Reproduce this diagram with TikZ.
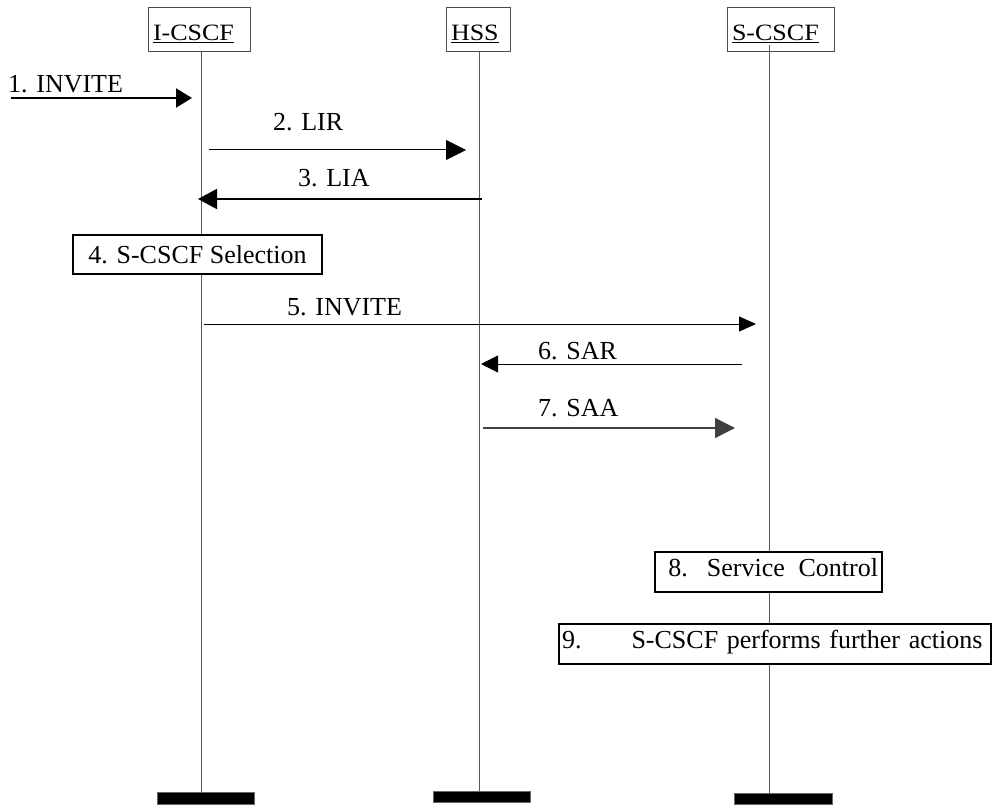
\documentclass[tikz,border=0pt]{standalone}
\usepackage{fontspec}
\setmainfont{Liberation Serif}
\usepackage{graphicx}
\usetikzlibrary{arrows.meta}
\begin{document}
\begin{tikzpicture}[x=1pt,y=-1pt,
  every node/.style={font=\fontsize{26}{30}\selectfont},
  hdr/.style={draw=black!70, line width=1pt, fill=white, inner xsep=5pt, inner ysep=0pt, minimum height=44pt, text height=22pt, text depth=0pt, align=left},
  life/.style={draw=black!65, line width=1pt},
  msg/.style={line width=1pt, -{Triangle[length=18pt,width=18pt]}},
  bar/.style={fill=black, draw=black!60, line width=0.8pt, inner sep=0pt, anchor=north west},
  stepbox/.style={draw, line width=1.3pt, fill=white, inner ysep=0pt},
  lbl/.style={anchor=base west, inner sep=0pt}]

\useasboundingbox (0,0) rectangle (993,805);

% lifeline end points
\coordinate (icT) at (201,52);  \coordinate (icB) at (201,792);
\coordinate (hsT) at (479,52);  \coordinate (hsB) at (479,791);
\coordinate (scT) at (769,45);  \coordinate (scB) at (769,793);

\draw[life] (icT) -- (icB);
\draw[life] (hsT) -- (hsB);

% headers
\node[hdr, text width=92pt] (ic) at (199,30) {\scalebox{1}[0.9]{\underline{I-CSCF}}};
\node[hdr, text width=54pt] (hs) at (478,30) {\scalebox{1}[0.9]{\underline{HSS}}};
\node[hdr, text width=97pt] (sc) at (780.5,30) {\scalebox{1}[0.9]{\underline{S-CSCF}}};

\draw[life] (scT) -- (scB);

% bottom bars
\node[bar, minimum width=97pt, minimum height=12pt] (icbar) at (157,792) {};
\node[bar, minimum width=97pt, minimum height=11pt] (hsbar) at (433,791) {};
\node[bar, minimum width=98pt, minimum height=11pt] (scbar) at (734,793) {};

% message end points
\coordinate (m1s) at (11,98);   \coordinate (m1e) at (192,98);
\coordinate (m2s) at (209,150); \coordinate (m2e) at (466,150);
\coordinate (m3s) at (482,199); \coordinate (m3e) at (198,199);
\coordinate (m5s) at (204,324); \coordinate (m5e) at (756,324);
\coordinate (m6s) at (742,364); \coordinate (m6e) at (481,364);
\coordinate (m7s) at (483,428); \coordinate (m7e) at (735,428);

\draw[msg, line width=2pt, -{Triangle[length=16pt,width=19pt]}] (m1s) -- (m1e);
\draw[msg, -{Triangle[length=20pt,width=20pt]}] (m2s) -- (m2e);
\draw[msg, line width=2pt, -{Triangle[length=19pt,width=20pt]}] (m3s) -- (m3e);
\draw[msg, -{Triangle[length=17pt,width=15pt]}] (m5s) -- (m5e);
\draw[msg, -{Triangle[length=17pt,width=17pt]}] (m6s) -- (m6e);
\draw[msg, line width=1.5pt, draw=black!75, -{Triangle[length=20pt,width=20pt]}] (m7s) -- (m7e);

% labels
\node[lbl] (l1) at (8,93) {1. INVITE};
\node[lbl] (l2) at (273,131) {2. LIR};
\node[lbl] (l3) at (298,187) {3. LIA};
\node[lbl] (l5) at (287,315) {5. INVITE};
\node[lbl] (l6) at (538,359) {6. SAR};
\node[lbl] (l7) at (538,416) {7. SAA};

% step boxes
\node[stepbox, minimum width=249pt, minimum height=39pt, text height=17pt, text depth=0pt] (b4) at (197.5,254.5) {4. S-CSCF Selection};
\node[stepbox, minimum height=40pt, text width=219pt, inner xsep=4pt, align=right, text height=17pt, text depth=9pt] (b8) at (768.5,572) {8.\hspace{6pt} Service\hspace{5pt} Control};
\node[stepbox, minimum height=40pt, text width=426pt, inner xsep=3pt, align=left, text height=17pt, text depth=9pt] (b9) at (775,644) {9.\hspace{50pt}S-CSCF performs further actions};
\end{tikzpicture}
\end{document}
